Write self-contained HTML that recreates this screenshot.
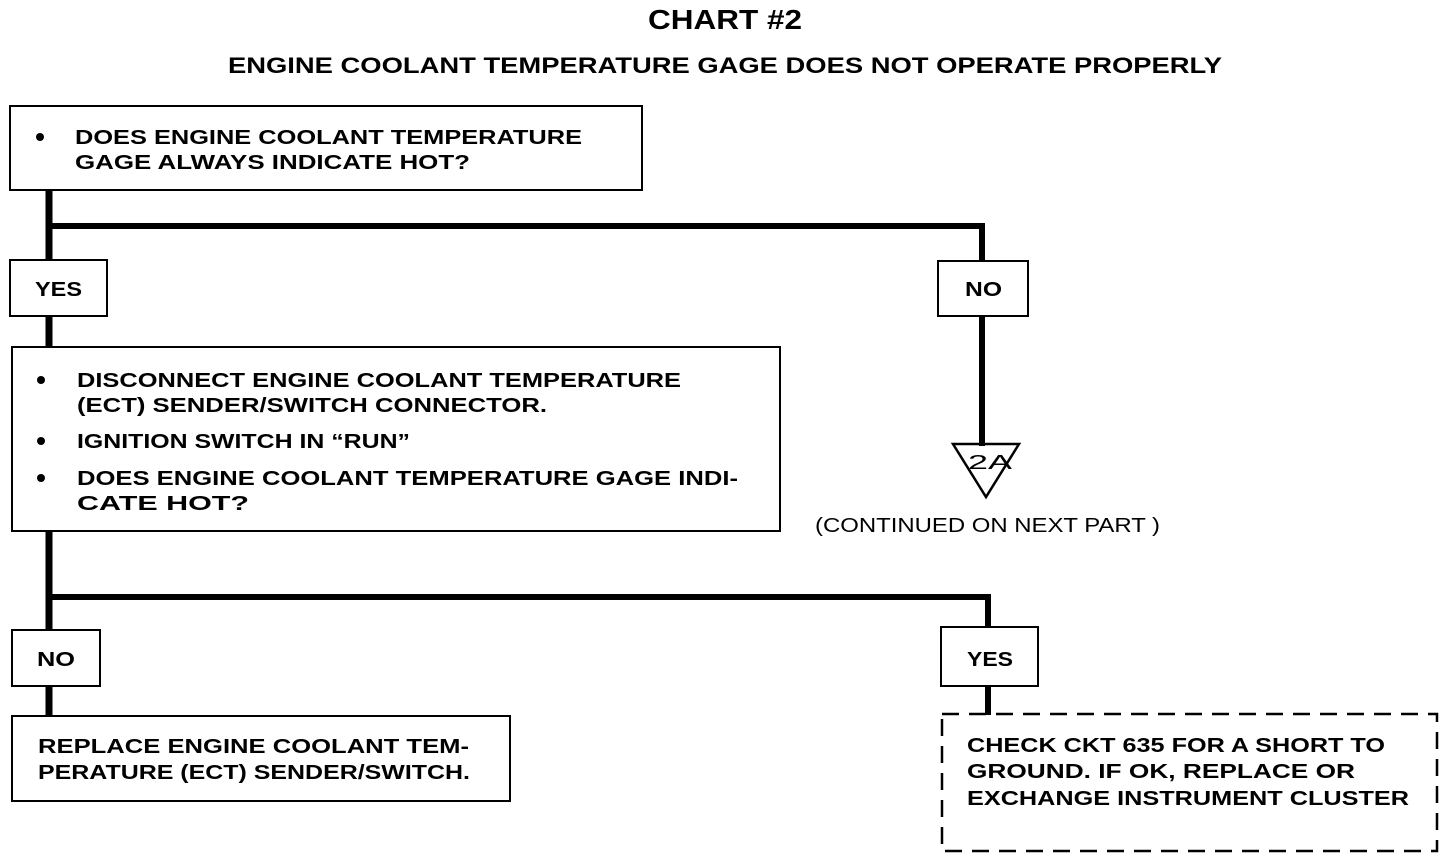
<!DOCTYPE html>
<html><head><meta charset="utf-8"><style>html,body{margin:0;padding:0;background:#fff}svg{display:block}</style></head>
<body>
<svg width="1456" height="860" viewBox="0 0 1456 860" xmlns="http://www.w3.org/2000/svg" font-family="Liberation Sans, Arial, sans-serif" font-weight="bold" fill="#000">
<rect width="1456" height="860" fill="#fff"/>
<text x="648" y="29" font-size="28" textLength="154" lengthAdjust="spacingAndGlyphs">CHART #2</text>
<text x="228" y="73" font-size="22" textLength="994" lengthAdjust="spacingAndGlyphs">ENGINE COOLANT TEMPERATURE GAGE DOES NOT OPERATE PROPERLY</text>
<g fill="none" stroke="#000">
<rect x="10" y="106" width="632" height="84" stroke-width="2"/>
<rect x="10" y="260" width="97" height="56" stroke-width="2"/>
<rect x="938" y="261" width="90" height="55" stroke-width="2"/>
<rect x="12" y="347" width="768" height="184" stroke-width="2"/>
<rect x="12" y="630" width="88" height="56" stroke-width="2"/>
<rect x="12" y="716" width="498" height="85" stroke-width="2"/>
<rect x="941" y="627" width="97" height="59" stroke-width="2"/>
<rect x="942" y="714" width="495" height="137" stroke-width="2.5" stroke-dasharray="17,10"/>
<path d="M49 190V260M49 316V347M49 531V630M49 686V716" stroke-width="7"/>
<path d="M46 226H982V261" stroke-width="6"/>
<path d="M982 316V446" stroke-width="6"/>
<path d="M46 597H988V627M988 686V715" stroke-width="6"/>
<polygon points="953,444 1019,444 986,497" stroke-width="2.5"/>
</g>
<g font-size="20">
<circle cx="40" cy="137" r="4"/>
<text x="75" y="144" textLength="507" lengthAdjust="spacingAndGlyphs">DOES ENGINE COOLANT TEMPERATURE</text>
<text x="75" y="169" textLength="395" lengthAdjust="spacingAndGlyphs">GAGE ALWAYS INDICATE HOT?</text>
<text x="35" y="296" textLength="47" lengthAdjust="spacingAndGlyphs">YES</text>
<text x="965" y="296" textLength="37" lengthAdjust="spacingAndGlyphs">NO</text>
<circle cx="41" cy="380" r="4"/>
<text x="77" y="387" textLength="604" lengthAdjust="spacingAndGlyphs">DISCONNECT ENGINE COOLANT TEMPERATURE</text>
<text x="77" y="412" textLength="470" lengthAdjust="spacingAndGlyphs">(ECT) SENDER/SWITCH CONNECTOR.</text>
<circle cx="41" cy="441" r="4"/>
<text x="77" y="448" textLength="333" lengthAdjust="spacingAndGlyphs">IGNITION SWITCH IN “RUN”</text>
<circle cx="41" cy="478" r="4"/>
<text x="77" y="485" textLength="661" lengthAdjust="spacingAndGlyphs">DOES ENGINE COOLANT TEMPERATURE GAGE INDI-</text>
<text x="77" y="510" textLength="172" lengthAdjust="spacingAndGlyphs">CATE HOT?</text>
<text x="968" y="469" font-weight="normal" textLength="44" lengthAdjust="spacingAndGlyphs">2A</text>
<text x="815" y="532" font-weight="normal" textLength="345" lengthAdjust="spacingAndGlyphs">(CONTINUED ON NEXT PART )</text>
<text x="37" y="666" textLength="38" lengthAdjust="spacingAndGlyphs">NO</text>
<text x="967" y="666" textLength="46" lengthAdjust="spacingAndGlyphs">YES</text>
<text x="38" y="753" textLength="431" lengthAdjust="spacingAndGlyphs">REPLACE ENGINE COOLANT TEM-</text>
<text x="38" y="779" textLength="432" lengthAdjust="spacingAndGlyphs">PERATURE (ECT) SENDER/SWITCH.</text>
<text x="967" y="752" textLength="418" lengthAdjust="spacingAndGlyphs">CHECK CKT 635 FOR A SHORT TO</text>
<text x="967" y="778" textLength="388" lengthAdjust="spacingAndGlyphs">GROUND.  IF OK, REPLACE OR</text>
<text x="967" y="805" textLength="442" lengthAdjust="spacingAndGlyphs">EXCHANGE INSTRUMENT CLUSTER</text>
</g>
</svg>
</body></html>
